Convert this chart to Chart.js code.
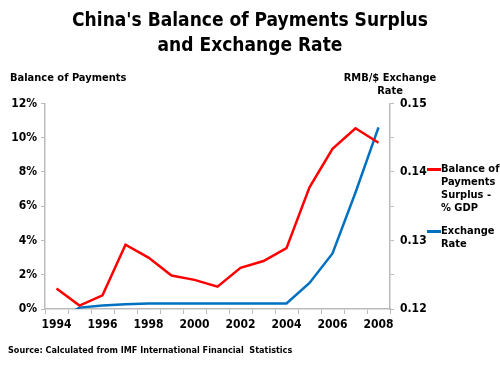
<!DOCTYPE html>
<html>
<head>
<meta charset="utf-8">
<script src="https://cdn.jsdelivr.net/npm/chart.js@4.4.1/dist/chart.umd.min.js"></script>
<style>
  body { margin: 0; background: #fff; font-family: "DejaVu Sans Condensed", "DejaVu Sans", sans-serif; }
  #wrap { position: relative; width: 500px; height: 375px; overflow: hidden; }
  .txt { position: absolute; font-weight: bold; color: #000; font-size: 11px; line-height: 13px; white-space: nowrap; }
  .key { position: absolute; width: 14px; height: 2.5px; }
</style>
</head>
<body>
<div id="wrap">
  <canvas id="chart" width="500" height="375"></canvas>
  <div class="txt" style="left:10px; top:71px;">Balance of Payments</div>
  <div class="txt" style="left:330px; top:71px; width:120px; text-align:center;">RMB/$ Exchange<br>Rate</div>
  <div class="key" style="left:427px; top:168px; background:#ff0000;"></div>
  <div class="txt" style="left:441px; top:162px;">Balance of<br>Payments<br>Surplus -<br>% GDP</div>
  <div class="key" style="left:427px; top:230px; background:#0070c0;"></div>
  <div class="txt" style="left:441px; top:224px;">Exchange<br>Rate</div>
  <div class="txt" style="left:8px; top:344px; font-size:9px;">Source: Calculated from IMF International Financial&nbsp; Statistics</div>
</div>
<script>
var years = ['1994', '1995', '1996', '1997', '1998', '1999', '2000', '2001',
             '2002', '2003', '2004', '2005', '2006', '2007', '2008'];
// current account surplus, % of GDP
var bopSurplus = [1.2, 0.2, 0.8, 3.75, 3.0, 1.95, 1.7, 1.3, 2.4, 2.8, 3.55, 7.1, 9.35, 10.55, 9.7];
// US$ per RMB
var exchangeRate = [0.1183, 0.1202, 0.1205, 0.1207, 0.1208, 0.1208, 0.1208, 0.1208,
                    0.1208, 0.1208, 0.1208, 0.1238, 0.1281, 0.1370, 0.1465];
var pctTicks = [0, 2, 4, 6, 8, 10, 12];
var rateTicks = [0.12, 0.13, 0.14, 0.15];

var tickFont = { family: '"DejaVu Sans Condensed", "DejaVu Sans", sans-serif', size: 12, weight: 'bold' };

new Chart(document.getElementById('chart'), {
  type: 'line',
  data: {
    labels: years,
    datasets: [
      {
        label: 'Balance of Payments Surplus - % GDP',
        data: bopSurplus,
        yAxisID: 'y',
        borderColor: '#ff0000',
        borderWidth: 2.5,
        pointRadius: 0,
        tension: 0
      },
      {
        label: 'Exchange Rate',
        data: exchangeRate,
        yAxisID: 'y1',
        borderColor: '#0070c0',
        borderWidth: 2.5,
        pointRadius: 0,
        tension: 0,
        clip: 0
      }
    ]
  },
  options: {
    responsive: false,
    animation: false,
    layout: { padding: 0 },
    plugins: {
      legend: { display: false },
      tooltip: { enabled: false },
      title: {
        display: true,
        text: ["China's Balance of Payments Surplus", 'and Exchange Rate'],
        color: '#000',
        font: { family: '"DejaVu Sans Condensed", "DejaVu Sans", sans-serif', size: 19, weight: 'bold', lineHeight: 1.3 },
        padding: { top: 9, bottom: 45 }
      }
    },
    scales: {
      x: {
        offset: true,
        grid: { offset: true, drawOnChartArea: false, tickLength: 5, color: '#bbb' },
        border: { color: '#bbb', width: 1.5 },
        ticks: {
          autoSkip: false,
          maxRotation: 0,
          color: '#000',
          font: tickFont,
          padding: 4,
          callback: function (v, i) { return i % 2 === 0 ? years[i] : ''; }
        },
        afterFit: function (s) { s.height = 66; }
      },
      y: {
        position: 'left',
        min: 0,
        max: 12,
        afterBuildTicks: function (s) { s.ticks = pctTicks.map(function (v) { return { value: v }; }); },
        grid: { drawOnChartArea: false, tickLength: 4, color: '#bbb' },
        border: { color: '#bbb', width: 1.5 },
        ticks: {
          color: '#000',
          font: tickFont,
          padding: 4,
          callback: function (v) { return v + '%'; }
        },
        afterFit: function (s) { s.width = 45; }
      },
      y1: {
        position: 'right',
        min: 0.12,
        max: 0.15,
        ticks: {
          stepSize: 0.005,
          color: '#000',
          font: tickFont,
          padding: 6,
          callback: function (v) {
            return rateTicks.some(function (r) { return Math.abs(r - v) < 1e-6; }) ? v.toFixed(2) : '';
          }
        },
        grid: { drawOnChartArea: false, tickLength: 4, color: '#bbb' },
        border: { color: '#bbb', width: 1.5 },
        afterFit: function (s) { s.width = 110; }
      }
    }
  }
});
</script>
</body>
</html>
